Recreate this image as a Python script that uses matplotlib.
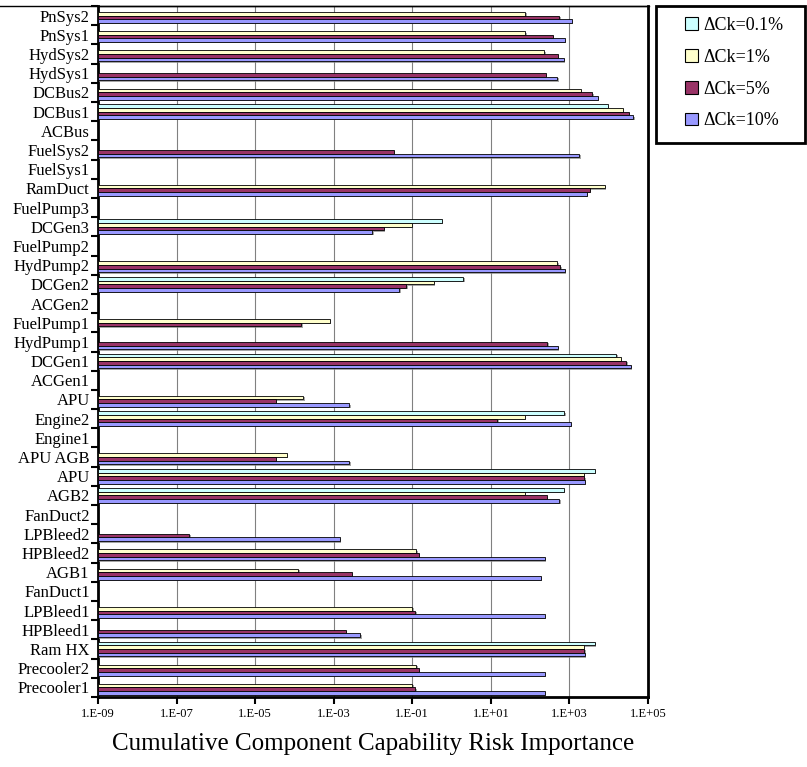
import numpy as np
import matplotlib
matplotlib.use("Agg")
import matplotlib.pyplot as plt
import matplotlib.patheffects as pe
from matplotlib.lines import Line2D
from matplotlib.patches import Patch, Rectangle

# ---------------------
# Data (read top to bottom from the chart)

components = ["PnSys2", "PnSys1", "HydSys2", "HydSys1", "DCBus2", "DCBus1",
              "ACBus", "FuelSys2", "FuelSys1", "RamDuct", "FuelPump3", "DCGen3",
              "FuelPump2", "HydPump2", "DCGen2", "ACGen2", "FuelPump1", "HydPump1",
              "DCGen1", "ACGen1", "APU", "Engine2", "Engine1", "APU AGB", "APU",
              "AGB2", "FanDuct2", "LPBleed2", "HPBleed2", "AGB1", "FanDuct1",
              "LPBleed1", "HPBleed1", "Ram HX", "Precooler2", "Precooler1"]

nan = np.nan

dck_01 = [nan, nan, nan, nan, nan, 9.5e3,
          nan, nan, nan, nan, nan, 0.56,
          nan, nan, 2.0, nan, nan, nan,
          1.55e4, nan, nan, 740, nan, nan, 4450,
          720, nan, nan, nan, nan, nan,
          nan, nan, 4450, nan, nan]

dck_1 = [76, 76, 230, nan, 1950, 2.3e4,
         nan, nan, nan, 8000, nan, 0.096,
         nan, 490, 0.35, nan, 7.9e-4, nan,
         2.0e4, nan, 1.7e-4, 72, nan, 6.5e-5, 2330,
         72, nan, nan, 0.126, 1.26e-4, nan,
         0.1, nan, 2330, 0.126, 0.1]

dck_5 = [550, 380, 510, 250, 3800, 3.3e4,
         nan, 0.034, nan, 3300, nan, 0.019,
         nan, 580, 0.071, nan, 1.5e-4, 275,
         2.8e4, nan, 3.3e-5, 14.5, nan, 3.3e-5, 2400,
         270, nan, 2.1e-7, 0.147, 2.9e-3, nan,
         0.12, 2.0e-3, 2400, 0.147, 0.12]

dck_10 = [1150, 760, 720, 490, 5250, 4.2e4,
          nan, 1780, nan, 2750, nan, 0.0096,
          nan, 760, 0.047, nan, nan, 500,
          3.7e4, nan, 2.5e-3, 1080, nan, 2.5e-3, 2450,
          550, nan, 1.45e-3, 233, 190, nan,
          233, 4.7e-3, 2450, 233, 233]

series_labels = ["\u0394Ck=0.1%", "\u0394Ck=1%", "\u0394Ck=5%", "\u0394Ck=10%"]
series_colors = ["#CCFFFF", "#FFFFCC", "#993366", "#9999FF"]

x_ticks = [1e-9, 1e-7, 1e-5, 1e-3, 1e-1, 1e1, 1e3, 1e5]
x_tick_labels = ["1.E-09", "1.E-07", "1.E-05", "1.E-03", "1.E-01", "1.E+01", "1.E+03", "1.E+05"]

# ---------------------

plt.rcParams['font.family'] = ['Liberation Serif', 'DejaVu Serif']

W, H = 807, 767
fig = plt.figure(figsize=(W / 100, H / 100), dpi=100)
ax = fig.add_axes([98 / W, 1 - 697 / H, 550 / W, 691 / H])

n = len(components)
pos = np.arange(n)[::-1].astype(float)
xmin = 1e-9
bar_h = 0.19
offsets = [1.5 * bar_h, 0.5 * bar_h, -0.5 * bar_h, -1.5 * bar_h]
shadow = [pe.SimplePatchShadow(offset=(1, -1), shadow_rgbFace="#808080", alpha=0.7), pe.Normal()]

for vals, off, col in zip([dck_01, dck_1, dck_5, dck_10], offsets, series_colors):
    v = np.array(vals, dtype=float)
    ok = ~np.isnan(v)
    bars = ax.barh(pos[ok] + off, v[ok] - xmin, left=xmin, height=bar_h,
                   color=col, edgecolor="black", linewidth=0.6, zorder=3)
    for b in bars:
        b.set_path_effects(shadow)

ax.set_xscale("log")
ax.set_xlim(1e-9, 1e5)
ax.set_ylim(-0.5, n - 0.5)

ax.set_xticks(x_ticks)
ax.set_xticklabels(x_tick_labels, fontsize=9)
ax.xaxis.set_minor_locator(matplotlib.ticker.NullLocator())
ax.tick_params(axis="x", direction="out", length=5, width=1.5, pad=3)
ax.grid(axis="x", color="#808080", linewidth=0.8, zorder=0)

ax.set_yticks(pos)
ax.set_yticklabels(components, fontsize=12)
ax.set_yticks(np.arange(n + 1) - 0.5, minor=True)
ax.tick_params(axis="y", which="major", length=0, pad=6)
ax.tick_params(axis="y", which="minor", direction="out", length=5, width=1.5)

for side in ["left", "bottom", "right"]:
    ax.spines[side].set_linewidth(2)
ax.spines["top"].set_linewidth(1)

ax.set_xlabel("Cumulative Component Capability Risk Importance", fontsize=18, labelpad=9)

# line across the top of the chart area
fig.add_artist(Line2D([0, 649 / W], [1 - 6 / H, 1 - 6 / H], transform=fig.transFigure,
                      color="black", linewidth=1))

# legend box
fig.add_artist(Rectangle((656 / W, 1 - 143 / H), 149 / W, 137 / H, transform=fig.transFigure,
                         facecolor="white", edgecolor="black", linewidth=2))
handles = [Patch(facecolor=c, edgecolor="black", linewidth=0.8) for c in series_colors]
leg = fig.legend(handles, series_labels, loc="upper left", bbox_to_anchor=(685 / W, 1 - 17 / H),
                 fontsize=13, frameon=False, borderpad=0, borderaxespad=0,
                 handlelength=0.7, handleheight=0.7, handletextpad=0.3,
                 labelspacing=0.82)

fig.savefig("out.png", dpi=100)
